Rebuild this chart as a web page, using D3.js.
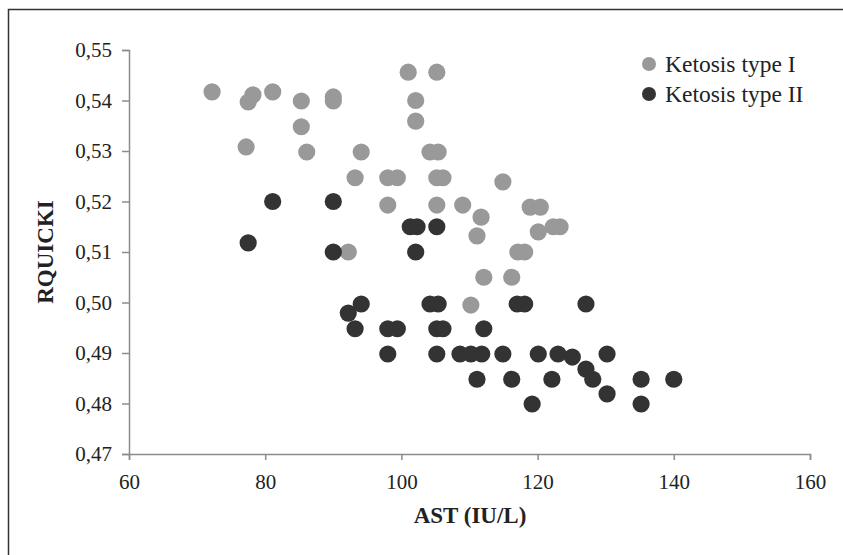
<!DOCTYPE html>
<html>
<head>
<meta charset="utf-8">
<script src="https://cdn.jsdelivr.net/npm/d3@7"></script>
<style>
  html, body { margin: 0; padding: 0; background: #fff; }
  svg { display: block; }
</style>
</head>
<body>
<svg id="chart" width="843" height="555"></svg>
<script>
// AST (IU/L) and RQUICKI per cow
const type1Ast = [72.2, 77.2, 77.5, 78.2, 81.1, 85.3, 85.3, 86.1, 90, 90, 92.2, 93.2, 94.1, 98, 99.4, 98,
  101, 105.2, 102.1, 102.1, 104.2, 105.4, 105.2, 106.1, 105.2, 109, 111.7, 111.1, 112.1, 110.2,
  114.9, 116.2, 117.1, 118.1, 118.9, 120.4, 120.1, 122.3, 123.3];
const type1Rq = [0.5417, 0.5308, 0.5397, 0.5411, 0.5417, 0.5399, 0.5348, 0.5298, 0.5399, 0.5407, 0.510, 0.5247, 0.5298, 0.5247, 0.5247, 0.5193,
  0.5456, 0.5456, 0.540, 0.5359, 0.5298, 0.5298, 0.5247, 0.5247, 0.5193, 0.5193, 0.5169, 0.5132, 0.505, 0.4995,
  0.5239, 0.505, 0.510, 0.510, 0.5189, 0.5189, 0.514, 0.515, 0.515];

const type2Ast = [77.5, 81.1, 90, 90, 92.2, 93.2, 94.1, 98, 99.4, 98, 101.3, 102.3, 105.2, 102.1,
  104.2, 105.4, 105.2, 106.1, 105.2, 108.6, 110.2, 111.8, 112.1, 114.9, 117, 118.1, 127.1,
  120.1, 123, 125.1, 127.1, 128.1, 130.2, 130.2, 111.1, 116.2, 122.1, 119.2, 135.2, 135.2, 140];
const type2Rq = [0.5118, 0.520, 0.520, 0.510, 0.4979, 0.4948, 0.4997, 0.4948, 0.4948, 0.4898, 0.515, 0.515, 0.515, 0.510,
  0.4997, 0.4997, 0.4948, 0.4948, 0.4898, 0.4898, 0.4898, 0.4898, 0.4948, 0.4898, 0.4997, 0.4997, 0.4997,
  0.4898, 0.4898, 0.4892, 0.4868, 0.4848, 0.4898, 0.4819, 0.4848, 0.4848, 0.4848, 0.4799, 0.4848, 0.4799, 0.4848];

const xTicks = [60, 80, 100, 120, 140, 160];
const yTicks = [0.47, 0.48, 0.49, 0.50, 0.51, 0.52, 0.53, 0.54, 0.55];
const seriesNames = ["Ketosis type I", "Ketosis type II"];
const seriesColors = ["#999999", "#333333"];

const series = [
  type1Ast.map((x, i) => ({ x, y: type1Rq[i] })),
  type2Ast.map((x, i) => ({ x, y: type2Rq[i] }))
];

const svg = d3.select("#chart");
const serif = "'Liberation Serif', 'DejaVu Serif', serif";

// outer frame (right and bottom edges are cut off in the original)
svg.append("path")
  .attr("d", "M8.5,560V9.5H850")
  .attr("fill", "none")
  .attr("stroke", "#333")
  .attr("stroke-width", 1.5);

const x = d3.scaleLinear().domain([60, 160]).range([129, 810]);
const y = d3.scaleLinear().domain([0.47, 0.55]).range([454, 50]);
const axisColor = "#8c8c8c";

const xAxis = svg.append("g")
  .attr("transform", `translate(0,${y(0.47)})`)
  .call(d3.axisBottom(x).tickValues(xTicks).tickSizeOuter(0).tickSize(6).tickPadding(14));
const yAxis = svg.append("g")
  .attr("transform", `translate(${x(60)},0)`)
  .call(d3.axisLeft(y).tickValues(yTicks).tickSizeOuter(0).tickSize(7).tickPadding(10)
    .tickFormat(d => d3.format(".2f")(d).replace(".", ",")));

[xAxis, yAxis].forEach(a => {
  a.select(".domain").attr("stroke", axisColor).attr("stroke-width", 1.5);
  a.selectAll(".tick line").attr("stroke", axisColor).attr("stroke-width", 1.5);
  a.selectAll(".tick text")
    .attr("fill", "#222")
    .style("font-family", serif)
    .style("font-size", "21px");
});

// titles
svg.append("text")
  .attr("x", 470).attr("y", 523)
  .attr("text-anchor", "middle")
  .style("font-family", serif).style("font-size", "23px").style("font-weight", "bold")
  .attr("fill", "#222")
  .text("AST (IU/L)");

svg.append("text")
  .attr("transform", `translate(53,252) rotate(-90)`)
  .attr("text-anchor", "middle")
  .style("font-family", serif).style("font-size", "23px").style("font-weight", "bold")
  .attr("fill", "#222")
  .text("RQUICKI");

// points
series.forEach((pts, si) => {
  svg.append("g")
    .selectAll("circle")
    .data(pts)
    .join("circle")
    .attr("cx", d => x(d.x))
    .attr("cy", d => y(d.y))
    .attr("r", 8.6)
    .attr("fill", seriesColors[si]);
});

// legend
const legend = svg.append("g").attr("transform", "translate(649,64)");
seriesNames.forEach((name, i) => {
  const row = legend.append("g").attr("transform", `translate(0,${i * 30})`);
  row.append("circle").attr("r", 7).attr("fill", seriesColors[i]);
  row.append("text")
    .attr("x", 16).attr("dy", "0.35em")
    .style("font-family", serif).style("font-size", "23.5px")
    .attr("fill", "#222")
    .text(name);
});
</script>
</body>
</html>
